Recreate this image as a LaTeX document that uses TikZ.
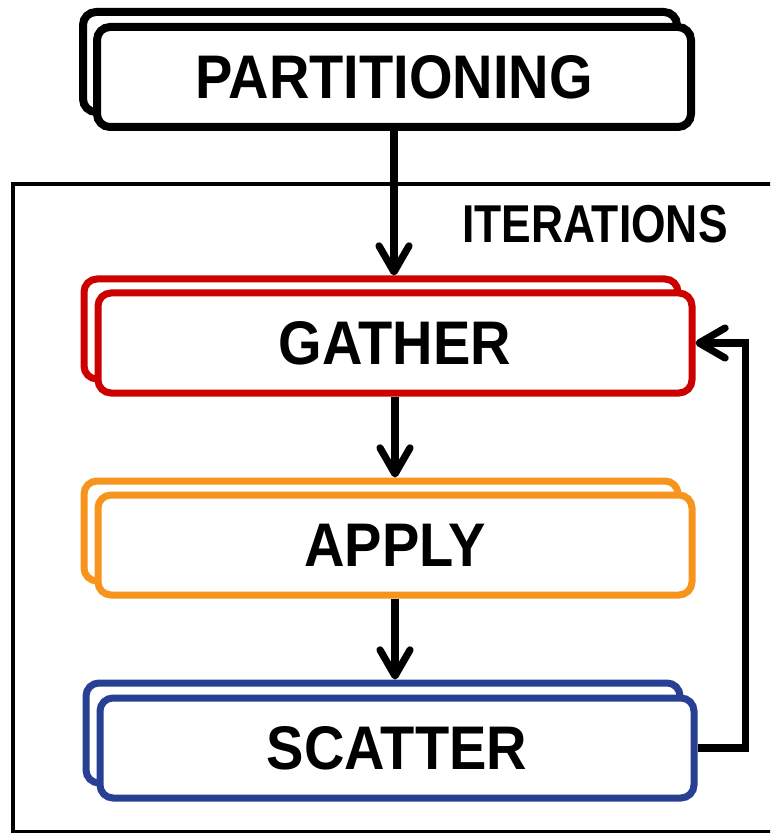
\documentclass[tikz,border=0pt]{standalone}
\usepackage{fontspec}
\setsansfont{Liberation Sans}
\usetikzlibrary{arrows.meta}
\definecolor{gatherred}{RGB}{204,0,0}
\definecolor{applyorange}{RGB}{247,148,29}
\definecolor{scatterblue}{RGB}{40,64,148}
\newcommand{\tallcaps}[2][1.1]{\scalebox{1}[#1]{#2}}

\begin{document}
\begin{tikzpicture}[x=0.5pt,y=-0.5pt,
  stage/.style={draw,fill=white,rounded corners=6.5pt,minimum width=297pt,minimum height=50pt,
    inner sep=0pt,line width=3.5pt,font=\sffamily\bfseries\fontsize{28}{30}\selectfont},
  flow/.style={line width=3.6pt,-{Straight Barb[length=13pt,width=15pt,round]}}]
\useasboundingbox (0,0) rectangle (770,833);
\clip (0,0) rectangle (770,833);
% iterations frame
\draw[line width=2.2pt] (13,184) rectangle (800,832);
\node[anchor=base east,inner sep=0pt,font=\sffamily\bfseries\fontsize{22.2}{24}\selectfont] (iterlabel) at (728,243) {\tallcaps[1.2]{ITERATIONS}};
% stages, each with a copy behind it
\node[stage,line width=4pt] (partitionback) at (380,62) {};
\node[stage,line width=4pt] (partition) at (394,77) {\tallcaps{PARTITIONING}};
\node[stage,draw=gatherred] (gatherback) at (381,329) {};
\node[stage,draw=gatherred] (gather) at (395,343) {\tallcaps{GATHER}};
\node[stage,draw=applyorange] (applyback) at (381,531) {};
\node[stage,draw=applyorange] (apply) at (395,545) {\tallcaps{APPLY}};
\node[stage,draw=scatterblue] (scatterback) at (383,733) {};
\node[stage,draw=scatterblue] (scatter) at (397,748) {\tallcaps{SCATTER}};
% connectors
\draw[flow] (partition.south) -- (partition.south |- gatherback.north);
\draw[flow] (gather.south) -- (gather.south |- applyback.north);
\draw[flow] (apply.south) -- (apply.south |- scatterback.north);
\draw[flow] (scatter.east) -- ++(48,0) |- (gather.east);
\end{tikzpicture}
\end{document}
